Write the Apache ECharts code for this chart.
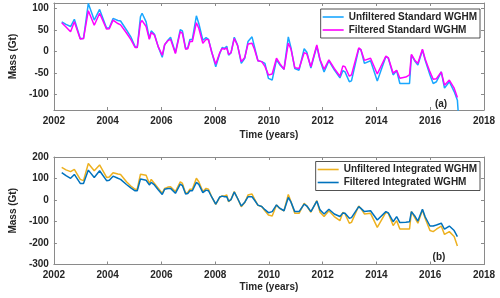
<!DOCTYPE html>
<html><head><meta charset="utf-8">
<script src="https://cdn.jsdelivr.net/npm/echarts@6/dist/echarts.min.js"></script>
<style>html,body{margin:0;padding:0;background:#fff}#c{width:500px;height:298px}</style>
</head><body><div id="c"></div>
<script>
const years = [2002.29,2002.45,2002.62,2002.76,2002.98,2003.10,2003.28,2003.50,2003.70,2003.96,2004.06,2004.20,2004.38,2004.48,2004.70,2004.86,2005.02,2005.10,2005.22,2005.28,2005.43,2005.55,2005.62,2005.74,2005.88,2006.03,2006.12,2006.24,2006.34,2006.52,2006.70,2006.78,2006.90,2006.98,2007.06,2007.15,2007.30,2007.39,2007.54,2007.66,2007.75,2007.87,2008.02,2008.17,2008.26,2008.35,2008.43,2008.50,2008.59,2008.71,2008.83,2008.97,2009.10,2009.22,2009.37,2009.46,2009.59,2009.73,2009.85,2009.98,2010.12,2010.28,2010.40,2010.56,2010.72,2010.82,2010.96,2011.12,2011.31,2011.41,2011.56,2011.78,2011.90,2012.05,2012.23,2012.43,2012.64,2012.75,2012.83,2012.99,2013.07,2013.34,2013.42,2013.55,2013.78,2014.03,2014.35,2014.44,2014.62,2014.75,2014.87,2015.09,2015.23,2015.30,2015.44,2015.54,2015.71,2015.81,2015.99,2016.11,2016.23,2016.41,2016.53,2016.71,2016.89,2017.01,2017.05];
const unfilteredStandard = [69,63,58,75,30,30,112,73,98,54,55,77,72,71,50,34,11,9,81,89,69,30,48,40,11,-14,15,26,33,-3,51,48,7,8,28,28,83,65,26,32,28,-1,-36,-5,9,7,12,-9,-3,33,15,-28,-16,23,34,11,-22,-24,-28,-63,-67,-20,-31,-42,34,8,-40,-44,6,-2,-39,12,-21,-48,-22,-43,-62,-45,-48,-71,-69,6,4,-28,-22,-69,-12,-16,-55,-45,-75,-75,-75,-9,-24,-32,3,-20,-55,-75,-71,-48,-86,-71,-94,-114,-150];
const filteredStandard = [67,57,46,69,29,30,95,61,89,52,53,73,65,62,43,28,9,9,67,72,58,28,44,38,11,-9,16,25,28,-5,46,42,5,6,23,23,67,54,19,28,27,-2,-30,-3,7,5,8,-7,-3,30,14,-24,-14,17,19,5,-22,-24,-35,-55,-53,-16,-28,-42,19,5,-38,-40,-3,-6,-36,15,-19,-42,-20,-40,-58,-34,-36,-58,-55,8,4,-21,-16,-53,-11,-15,-51,-44,-63,-60,-55,-7,-22,-28,5,-18,-48,-65,-64,-48,-79,-67,-86,-108,null];
const unfilteredIntegrated = [152,140,132,142,96,90,170,136,163,105,107,127,121,119,85,65,50,50,120,128,115,77,96,77,55,31,54,60,62,39,85,77,31,35,50,50,101,85,39,54,50,15,-20,12,19,19,23,-8,3,39,8,-31,-12,23,28,5,-25,-30,-50,-70,-74,-23,-40,-50,26,-8,-62,-62,-15,-28,-57,-3,-57,-77,-50,-77,-96,-57,-65,-108,-104,-28,-39,-65,-62,-127,-57,-62,-119,-96,-135,-135,-135,-54,-85,-108,-46,-85,-142,-147,-136,-121,-160,-147,-170,-214,null];
const filteredIntegrated = [127,113,101,119,77,77,139,105,136,90,92,111,101,96,72,56,43,43,98,104,92,70,82,70,48,26,50,53,54,31,74,67,28,30,43,43,82,73,34,46,43,14,-19,14,18,15,15,-5,2,37,8,-28,-10,15,15,0,-24,-30,-45,-59,-54,-23,-38,-50,12,-10,-54,-54,-19,-28,-54,-5,-46,-65,-43,-65,-77,-60,-62,-85,-82,-31,-39,-54,-50,-93,-54,-60,-101,-77,-105,-103,-101,-54,-77,-98,-43,-78,-121,-121,-116,-108,-136,-121,-142,-170,null];
const xTickLabels = [2002,2004,2006,2008,2010,2012,2014,2016,2018];
const yTicksTop = [-100,-50,0,50,100];
const yTicksBottom = [-300,-200,-100,0,100,200];
const namesTop = ['Unfiltered Standard WGHM','Filtered Standard WGHM'];
const namesBottom = ['Unfiltered Integrated WGHM','Filtered Integrated WGHM'];
const panelTags = ['(a)','(b)'];

const pair = (xs, ys) => xs.map((x, i) => [x, ys[i]]);
const FONT = 'Liberation Sans';
const txt = {color:'#262626', fontFamily:FONT, fontWeight:'bold', fontSize:10};
const axLine = {show:true, onZero:false, lineStyle:{color:'#8a8a8a', width:1}};
const tick = {show:true, inside:true, length:3, lineStyle:{color:'#8a8a8a'}};

function xAx(g, pos){
  const main = pos === 'bottom';
  return {gridIndex:g, type:'value', position:pos, min:xTickLabels[0], max:xTickLabels[xTickLabels.length-1], interval:2,
    axisLine:axLine, axisTick:tick, splitLine:{show:false},
    axisLabel:Object.assign({show:main, margin:6, formatter:(v)=>String(v)}, txt),
    name: main ? 'Time (years)' : '', nameLocation:'middle', nameGap: g===0 ? 20 : 18, nameTextStyle:txt};
}
function yAx(g, pos){
  const main = pos === 'left';
  const base = {gridIndex:g, type:'value', position:pos, axisLine:axLine, splitLine:{show:false},
    name: main ? 'Mass (Gt)' : '', nameLocation:'middle', nameGap:29, nameTextStyle:txt};
  if (g === 0) {
    return Object.assign(base, {min:-137, max:113,
      axisTick:Object.assign({customValues:yTicksTop}, tick),
      axisLabel:Object.assign({show:main, margin:5, customValues:yTicksTop}, txt)});
  }
  return Object.assign(base, {min:yTicksBottom[0], max:yTicksBottom[yTicksBottom.length-1], interval:100,
    axisTick:tick, axisLabel:Object.assign({show:main, margin:5}, txt)});
}
function ser(name, xi, yi, ys, color){
  return {name, type:'line', xAxisIndex:xi, yAxisIndex:yi, data:pair(years, ys), symbol:'none',
    showSymbol:false, clip:true, lineStyle:{color, width:1.5}, itemStyle:{color}, animation:false};
}
const legendBase = {orient:'vertical', right:20, backgroundColor:'#fff', borderColor:'#262626', borderWidth:0.8,
  padding:[3,3,3,2], icon:'rect', itemWidth:21, itemHeight:1.6, itemGap:3, textStyle:txt};

const chart = echarts.init(document.getElementById('c'), null, {renderer:'canvas'});
chart.setOption({
  animation:false,
  grid:[{left:40, right:16, top:3, bottom:188}, {left:40, right:16, top:157, bottom:33.5}],
  xAxis:[xAx(0,'bottom'), xAx(0,'top'), xAx(1,'bottom'), xAx(1,'top')],
  yAxis:[yAx(0,'left'), yAx(0,'right'), yAx(1,'left'), yAx(1,'right')],
  legend:[Object.assign({top:9, data:namesTop}, legendBase), Object.assign({top:161.5, data:namesBottom}, legendBase)],
  series:[
    ser(namesTop[0], 0, 0, unfilteredStandard, '#1aa7ff'),
    ser(namesTop[1], 0, 0, filteredStandard, '#ff00ff'),
    ser(namesBottom[0], 2, 2, unfilteredIntegrated, '#EDB120'),
    ser(namesBottom[1], 2, 2, filteredIntegrated, '#0072BD')
  ],
  graphic:[
    {type:'text', x:441, y:104, style:{text:panelTags[0], align:'center', verticalAlign:'middle', fill:'#262626', font:'bold 10px "Liberation Sans"'}},
    {type:'text', x:439, y:257.5, style:{text:panelTags[1], align:'center', verticalAlign:'middle', fill:'#262626', font:'bold 10px "Liberation Sans"'}}
  ]
});
</script></body></html>
